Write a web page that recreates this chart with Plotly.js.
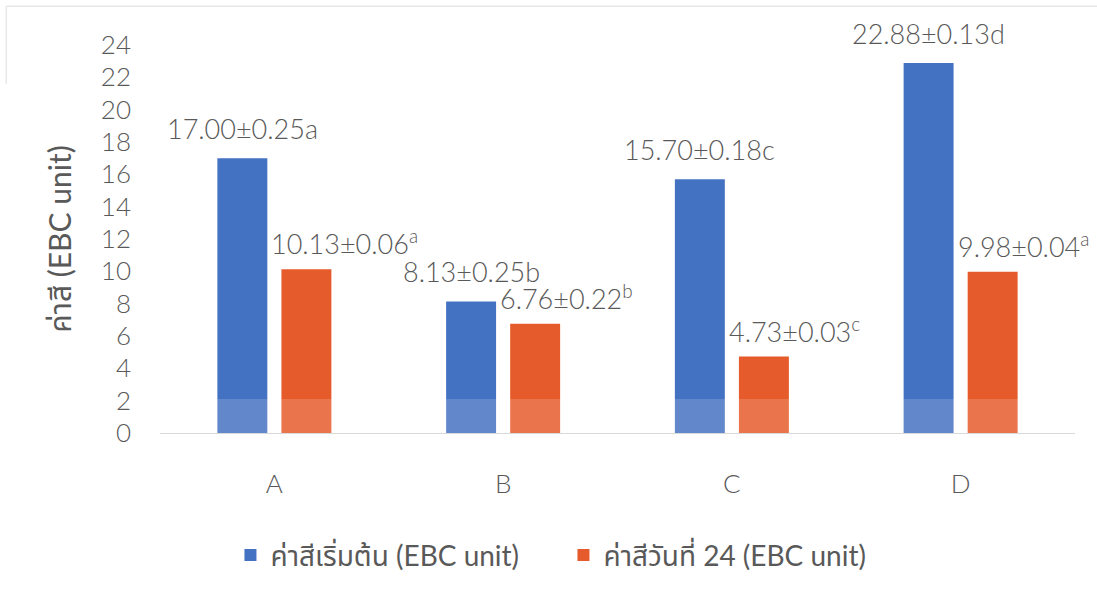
<!DOCTYPE html>
<html>
<head>
<meta charset="utf-8">
<script src="https://cdn.plot.ly/plotly-3.0.1.min.js"></script>
<style>
  html, body { margin: 0; padding: 0; background: #ffffff; }
  #chart { width: 1097px; height: 597px; }
</style>
</head>
<body>
<div id="chart"></div>
<script>
// Colour value (EBC unit) of four samples, at the start and on day 24
const categories = ['A', 'B', 'C', 'D'];
const startValues = [17.00, 8.13, 15.70, 22.88];
const startSD = ['0.25', '0.25', '0.18', '0.13'];
const startLetters = ['a', 'b', 'c', 'd'];
const day24Values = [10.13, 6.76, 4.73, 9.98];
const day24SD = ['0.06', '0.22', '0.03', '0.04'];
const day24Letters = ['a', 'b', 'c', 'a'];
const yTicks = [0, 2, 4, 6, 8, 10, 12, 14, 16, 18, 20, 22, 24];

const seriesNames = ['ค่าสีเริ่มต้น (EBC unit)', 'ค่าสีวันที่ 24 (EBC unit)'];
const yTitle = 'ค่าสี (EBC unit)';

const FONT = 'Lato, "Noto Sans Thai", "Noto Sans", "DejaVu Sans", sans-serif';
const GREY = '#595959';
const BLUE = '#4472C2';
const ORANGE = '#E65B2B';

const traces = [
  {
    type: 'bar', name: seriesNames[0], x: categories, y: startValues,
    marker: { color: BLUE }, hoverinfo: 'skip'
  },
  {
    type: 'bar', name: seriesNames[1], x: categories, y: day24Values,
    marker: { color: ORANGE }, hoverinfo: 'skip'
  }
];

// light weight for the numeric texts, regular for the Thai texts
const light = (size) => ({ family: FONT, size: size, color: GREY, weight: 300 });
const regular = (size) => ({ family: FONT, size: size, color: GREY, weight: 'normal' });

// value labels: start labels centred above the blue bars, day-24 labels
// starting just left of the orange bars with a superscript letter
const annotations = [];
categories.forEach((c, i) => {
  annotations.push({
    x: c, y: startValues[i], xref: 'x', yref: 'y',
    text: startValues[i].toFixed(2) + '±' + startSD[i] + startLetters[i],
    showarrow: false, xanchor: 'center', yanchor: 'middle',
    xshift: -32, yshift: 30, font: light(27)
  });
  annotations.push({
    x: c, y: day24Values[i], xref: 'x', yref: 'y',
    text: day24Values[i].toFixed(2) + '±' + day24SD[i] + '<sup>' + day24Letters[i] + '</sup>',
    showarrow: false, xanchor: 'left', yanchor: 'middle',
    xshift: 32 - 25 - 12, yshift: 27, font: light(27)
  });
});

const layout = {
  width: 1097, height: 597,
  margin: { l: 160, r: 22, t: 45, b: 164 },
  paper_bgcolor: '#ffffff', plot_bgcolor: '#ffffff',
  font: light(26),
  barmode: 'group', bargap: 0.44, bargroupgap: 0.22,
  showlegend: true,
  legend: {
    orientation: 'h', x: 0.077, xanchor: 'left', y: -0.315, yanchor: 'middle',
    font: regular(28), itemwidth: 30, entrywidth: 288, entrywidthmode: 'pixels',
    traceorder: 'normal'
  },
  xaxis: {
    type: 'category', range: [-0.5, 3.5], fixedrange: true,
    showgrid: false, zeroline: false,
    showline: true, linecolor: '#d9d9d9', linewidth: 1,
    ticks: '', ticklabelstandoff: 28,
    tickfont: light(26)
  },
  yaxis: {
    range: [0, 24], fixedrange: true,
    tickmode: 'array', tickvals: yTicks, ticktext: yTicks.map(String),
    showgrid: false, zeroline: false, showline: false,
    ticks: '', ticklabelstandoff: 28,
    tickfont: light(26),
    title: { text: yTitle, standoff: 20, font: regular(30) }
  },
  annotations: annotations,
  shapes: [
    // lighter strip along the bar bases
    { type: 'rect', xref: 'paper', yref: 'y', x0: 0, x1: 1, y0: 0, y1: 2.1,
      fillcolor: 'rgba(255,255,255,0.16)', line: { width: 0 }, layer: 'above' },
    // chart frame, top and left edges
    { type: 'line', xref: 'paper', yref: 'paper', x0: -0.168, x1: 1.03, y0: 1.1, y1: 1.1,
      line: { color: '#e8e8e8', width: 1.5 } },
    { type: 'line', xref: 'paper', yref: 'paper', x0: -0.168, x1: -0.168, y0: 1.1, y1: 0.9,
      line: { color: '#e8e8e8', width: 1.5 } }
  ]
};

Plotly.newPlot('chart', traces, layout, { displayModeBar: false, staticPlot: true });
</script>
</body>
</html>
